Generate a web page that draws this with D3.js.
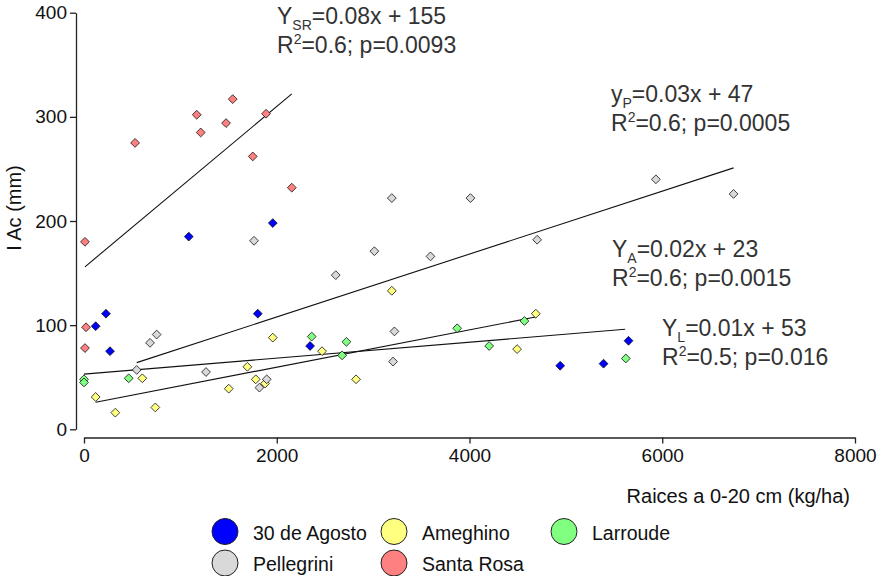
<!DOCTYPE html>
<html>
<head>
<meta charset="utf-8">
<script src="https://cdn.jsdelivr.net/npm/d3@7"></script>
<style>
  html, body { margin: 0; padding: 0; background: #fff; }
  svg { display: block; font-family: "Liberation Sans", Arial, sans-serif; }
</style>
</head>
<body>
<svg id="chart" width="878" height="576"></svg>
<script>
// ---- Data ----
const seriesNames = ["30 de Agosto", "Ameghino", "Larroude", "Pellegrini", "Santa Rosa"];
const seriesColors = ["#0000FF", "#FFFF80", "#80FF80", "#D9D9D9", "#FF8080"];

const agostoX = [121, 228, 270, 1087, 1959, 1803, 2346, 4941, 5391, 5650];
const agostoY = [99, 111, 75, 185, 198, 111, 80, 61, 63, 85];

const ameghinoX = [121, 325, 605, 740, 1502, 1695, 1782, 1879, 1959, 2470, 2823, 3194, 4494, 4688];
const ameghinoY = [31, 16, 49, 21, 39, 60, 48, 44, 88, 75, 48, 133, 77, 111];

const larroudeX = [0, 0, 464, 2363, 2723, 2678, 3872, 4204, 4570, 5622];
const larroudeY = [48, 45, 49, 89, 84, 71, 97, 80, 104, 68];

const pellegriniX = [547, 685, 754, 1266, 1764, 1820, 1896, 2612, 3013, 3194, 3221, 3207, 3595, 4010, 4702, 5934, 6740];
const pellegriniY = [57, 83, 91, 55, 181, 40, 48, 148, 171, 222, 94, 65, 166, 222, 182, 240, 226];

const santaRosaX = [10, 21, 10, 530, 1170, 1211, 1543, 1474, 1889, 1751, 2156];
const santaRosaY = [180, 98, 78, 275, 302, 285, 317, 294, 303, 262, 232];

// regression lines: start/end
const fitNames = ["Santa Rosa", "Pellegrini", "Ameghino", "Larroude"];
const fitX0 = [10, 547, 121, 0];
const fitY0 = [156, 64, 26, 53];
const fitX1 = [2156, 6740, 4698, 5615];
const fitY1 = [322, 251, 108, 96];

// equation labels
const eqSub = ["SR", "P", "A", "L"];
const eqLead = ["Y", "y", "Y", "Y"];
const eqLine1 = ["=0.08x + 155", "=0.03x + 47", "=0.02x + 23", "=0.01x + 53"];
const eqLine2 = ["=0.6; p=0.0093", "=0.6; p=0.0005", "=0.6; p=0.0015", "=0.5; p=0.016"];

const xTicks = [0, 2000, 4000, 6000, 8000];
const yTicks = [0, 100, 200, 300, 400];
const xTitle = "Raices a 0-20 cm (kg/ha)";
const yTitle = "I Ac (mm)";

// ---- Build ----
const seriesX = [agostoX, ameghinoX, larroudeX, pellegriniX, santaRosaX];
const seriesY = [agostoY, ameghinoY, larroudeY, pellegriniY, santaRosaY];

const svg = d3.select("#chart");
const x = d3.scaleLinear().domain([0, 8000]).range([84, 855]);
const y = d3.scaleLinear().domain([0, 400]).range([429.3, 12.7]);

// axes
const yAxis = svg.append("g").attr("transform", "translate(76,0)")
  .call(d3.axisLeft(y).tickValues(yTicks).tickFormat(d3.format("d"))
    .tickSize(6).tickSizeOuter(0).tickPadding(3));
const xAxis = svg.append("g").attr("transform", "translate(0,437.5)")
  .call(d3.axisBottom(x).tickValues(xTicks).tickFormat(d3.format("d"))
    .tickSize(6).tickSizeOuter(0).tickPadding(5));
[xAxis, yAxis].forEach(a => {
  a.selectAll("path.domain").attr("stroke", "#222").attr("stroke-width", 1.3);
  a.selectAll(".tick line").attr("stroke", "#222").attr("stroke-width", 1.3);
  a.selectAll(".tick text").attr("font-size", 19).attr("fill", "#111")
    .attr("font-family", "'Liberation Sans', Arial, sans-serif");
});

// axis titles
svg.append("text").attr("x", 850).attr("y", 503).attr("text-anchor", "end")
  .attr("font-size", 20).attr("fill", "#111").text(xTitle);
svg.append("text").attr("transform", "translate(21,208) rotate(-90)")
  .attr("text-anchor", "middle").attr("font-size", 20).attr("fill", "#111").text(yTitle);

// regression lines
const fits = fitNames.map((n, i) => ({ x0: fitX0[i], y0: fitY0[i], x1: fitX1[i], y1: fitY1[i] }));
svg.append("g").selectAll("line").data(fits).join("line")
  .attr("x1", d => x(d.x0)).attr("y1", d => y(d.y0))
  .attr("x2", d => x(d.x1)).attr("y2", d => y(d.y1))
  .attr("stroke", "#111").attr("stroke-width", 1.1);

// points (diamonds)
const pts = [];
seriesNames.forEach((n, i) => {
  seriesX[i].forEach((vx, j) => pts.push({ s: i, x: vx, y: seriesY[i][j] }));
});
const diamond = "M0,-4.4L4.4,0L0,4.4L-4.4,0Z";
svg.append("g").selectAll("path").data(pts).join("path")
  .attr("d", diamond)
  .attr("transform", d => `translate(${x(d.x)},${y(d.y)})`)
  .attr("fill", d => seriesColors[d.s])
  .attr("stroke", "#111").attr("stroke-width", 0.8);

// equations
const eqPos = [[277, 24], [611, 102], [612, 257], [662, 336]];
const eqG = svg.append("g").attr("fill", "#333").attr("font-size", 23);
eqSub.forEach((sub, i) => {
  const [ex, ey] = eqPos[i];
  const t1 = eqG.append("text").attr("x", ex).attr("y", ey);
  t1.append("tspan").text(eqLead[i]);
  t1.append("tspan").attr("font-size", 14).attr("dy", 6).text(sub);
  t1.append("tspan").attr("dy", -6).text(eqLine1[i]);
  const t2 = eqG.append("text").attr("x", ex).attr("y", ey + 29);
  t2.append("tspan").text("R");
  t2.append("tspan").attr("font-size", 14).attr("dy", -9).text("2");
  t2.append("tspan").attr("dy", 9).text(eqLine2[i]);
});

// legend
const legPos = [[225, 531.5], [394, 531.5], [564, 531.5], [225, 563], [394, 563]];
const leg = svg.append("g");
seriesNames.forEach((n, i) => {
  const [lx, ly] = legPos[i];
  leg.append("circle").attr("cx", lx).attr("cy", ly).attr("r", 13)
    .attr("fill", seriesColors[i]).attr("stroke", "#222").attr("stroke-width", 1);
  leg.append("text").attr("x", lx + 28).attr("y", ly + 8)
    .attr("font-size", 19.5).attr("fill", "#111").text(n);
});
</script>
</body>
</html>
